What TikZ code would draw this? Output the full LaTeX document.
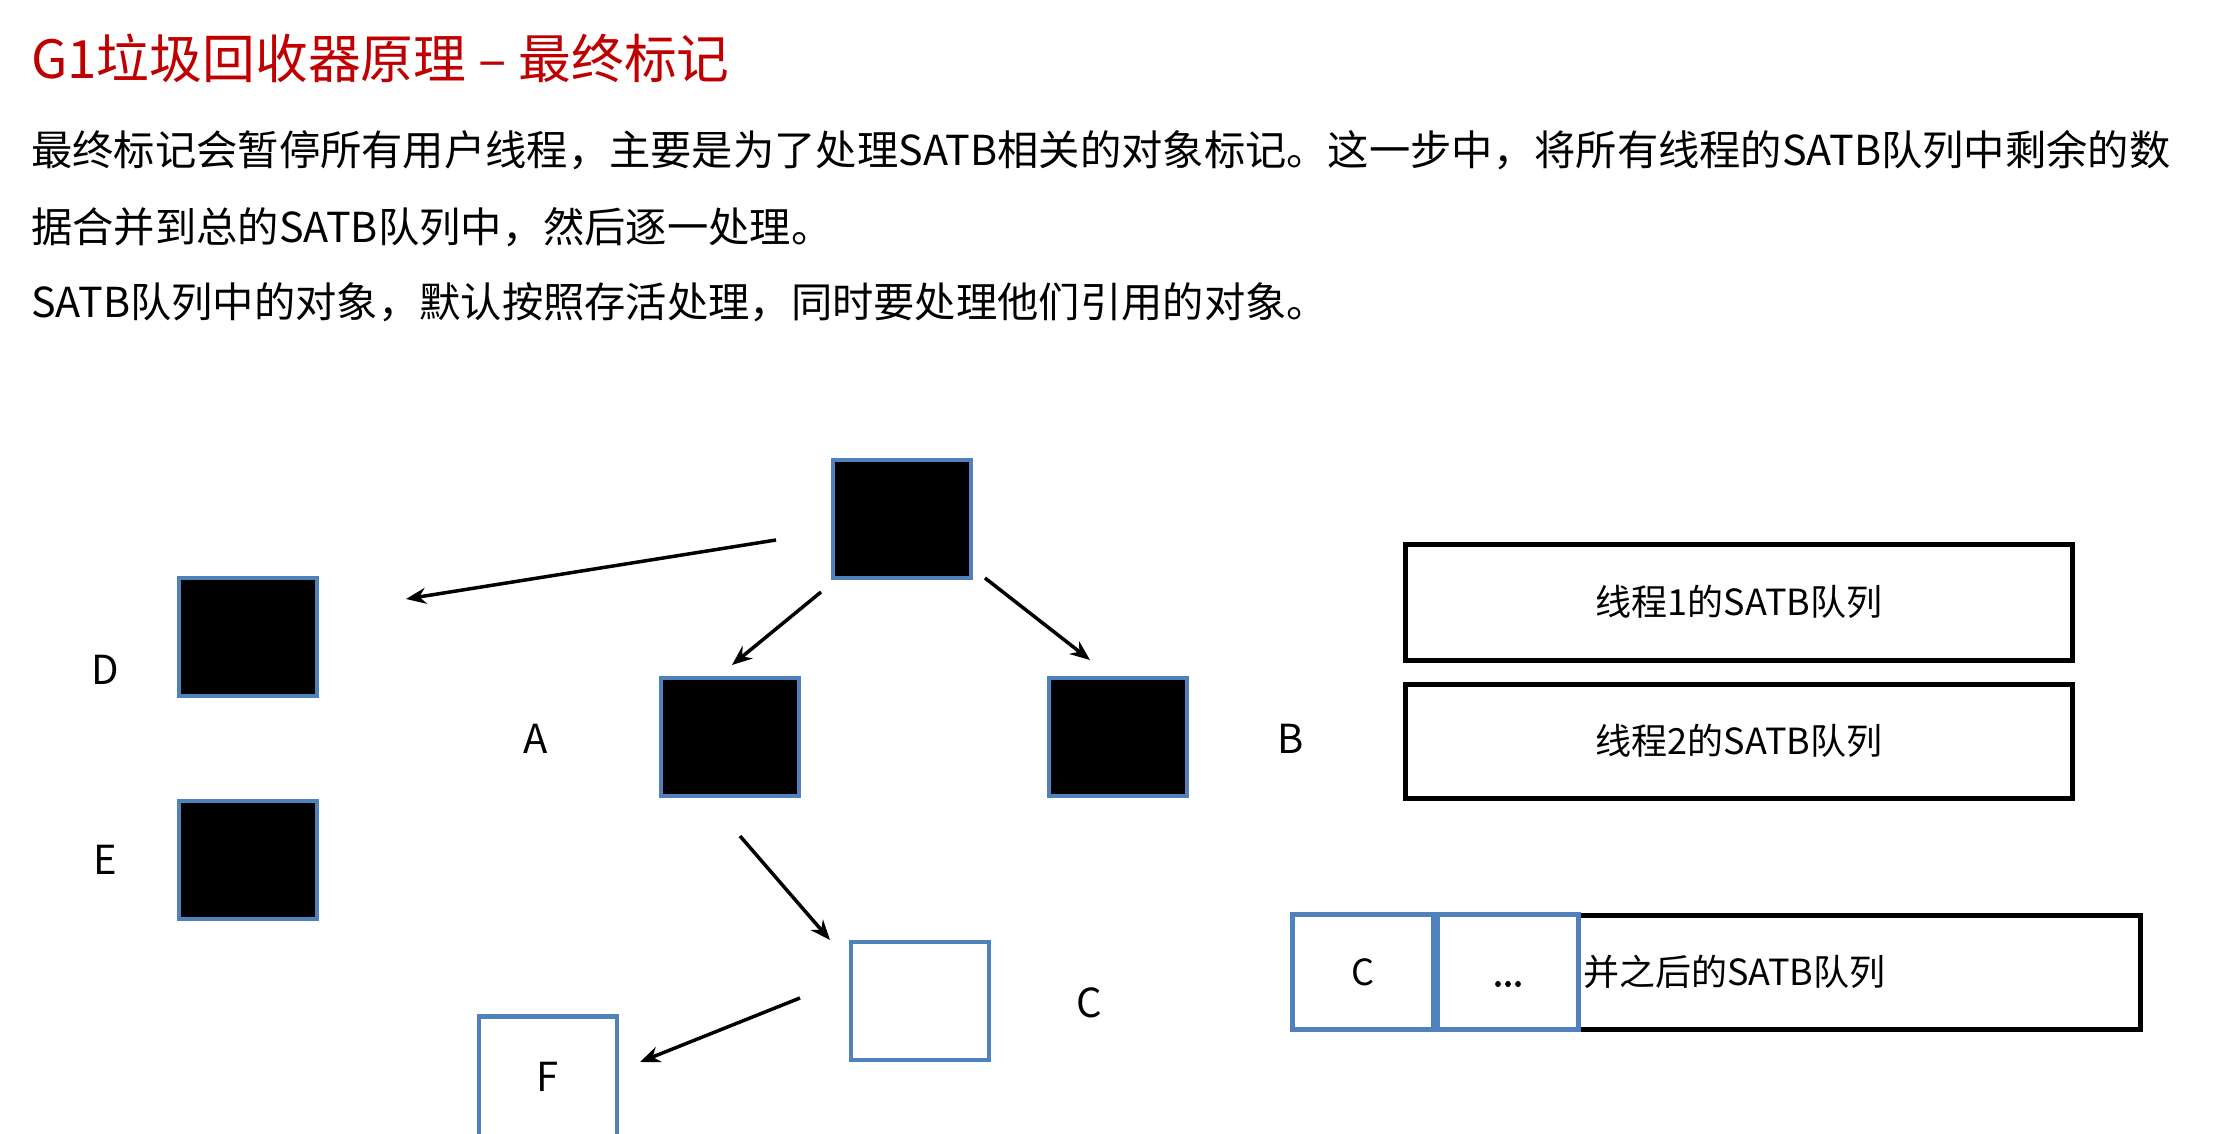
\documentclass[tikz,border=0pt]{standalone}
\usepackage{fontspec}
\setmainfont{Noto Sans CJK SC}
\usetikzlibrary{arrows.meta}
\definecolor{objblue}{RGB}{79,129,189}
\definecolor{titlered}{RGB}{192,0,0}
\tikzset{
  objbox/.style={draw=objblue, line width=4.5pt, inner sep=0pt, minimum width=138pt, minimum height=118pt},
  blackobj/.style={objbox, fill=black},
  whiteobj/.style={objbox, fill=white, font=\fontsize{40}{48}\selectfont},
  queuebox/.style={draw=black, line width=5pt, inner sep=0pt, font=\fontsize{36}{44}\selectfont},
  cellbox/.style={draw=objblue, line width=4.5pt, fill=white, inner sep=0pt, minimum width=141pt, minimum height=115pt, font=\fontsize{36}{44}\selectfont},
  lbl/.style={font=\fontsize{40}{48}\selectfont, inner sep=0pt},
  bodytext/.style={anchor=base west, inner sep=0pt, font=\fontsize{41.3}{50}\selectfont},
  arr/.style={line width=3.5pt, -{Stealth[length=20pt,width=16pt]}}
}
\begin{document}
\begin{tikzpicture}[x=1pt,y=-1pt]
\useasboundingbox (0,0) rectangle (2236,1134);
\fill[white] (0,0) rectangle (2236,1134);

% title and text
\node[anchor=base west, inner sep=0pt, text=titlered, font=\fontsize{52.8}{60}\selectfont] (title) at (31,79) {G1垃圾回收器原理 – 最终标记};
\node[bodytext] (l1) at (31,166) {最终标记会暂停所有用户线程，主要是为了处理SATB相关的对象标记。这一步中，将所有线程的SATB队列中剩余的数};
\node[bodytext] (l2) at (31,243) {据合并到总的SATB队列中，然后逐一处理。};
\node[bodytext] (l3) at (31,317) {SATB队列中的对象，默认按照存活处理，同时要处理他们引用的对象。};

% objects
\node[blackobj] (top) at (902,519) {};
\node[blackobj] (D) at (248,637) {};
\node[blackobj] (E) at (248,860) {};
\node[blackobj] (A) at (730,737) {};
\node[blackobj] (B) at (1118,737) {};
\node[whiteobj] (C) at (920,1001) {};
\node[whiteobj, minimum height=121pt] (F) at (548,1077) {F};

% labels
\node[lbl] (lD) at (105,670) {D};
\node[lbl] (lE) at (105,860) {E};
\node[lbl] (lA) at (536,739) {A};
\node[lbl] (lB) at (1291,739) {B};
\node[lbl] (lC) at (1089,1003) {C};

% arrows
\coordinate (t1) at (776,540); \coordinate (d1) at (406,599);
\coordinate (t2) at (821,592); \coordinate (a2) at (732,665);
\coordinate (t3) at (985,578); \coordinate (b3) at (1090,660);
\coordinate (a4) at (740,836); \coordinate (c4) at (830,940);
\coordinate (c5) at (800,998); \coordinate (f5) at (640,1062);
\draw[arr] (t1) -- (d1);
\draw[arr] (t2) -- (a2);
\draw[arr] (t3) -- (b3);
\draw[arr] (a4) -- (c4);
\draw[arr] (c5) -- (f5);

% queues
\node[queuebox, minimum width=667pt, minimum height=116pt] (q1) at (1739,602) {线程1的SATB队列};
\node[queuebox, minimum width=667pt, minimum height=114pt] (q2) at (1739,741) {线程2的SATB队列};
\node[queuebox, minimum width=847pt, minimum height=114pt] (q3) at (1717,972) {};
\node[cellbox] (qc) at (1363,972) {C};
\node[cellbox] (qd) at (1508,972) {};
\node[inner sep=0pt, font=\fontsize{36}{44}\selectfont\addfontfeatures{FakeBold=2.5}] (qdt) at (1508,984) {...};
\node[anchor=west, inner sep=0pt, font=\fontsize{36}{44}\selectfont] (qt) at (1583,972) {并之后的SATB队列};
\end{tikzpicture}
\end{document}
